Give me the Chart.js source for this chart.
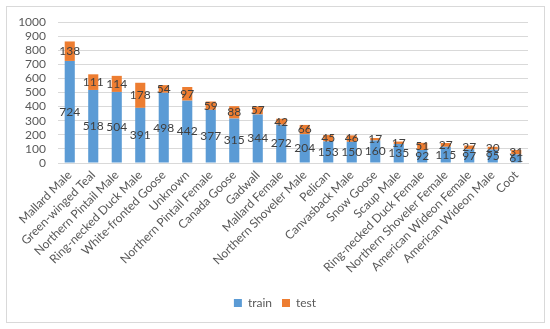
<!DOCTYPE html>
<html><head><meta charset="utf-8">
<script src="https://cdn.jsdelivr.net/npm/chart.js@4"></script>
<style>
html,body{margin:0;padding:0;background:#fff;}
#frame{position:absolute;left:6px;top:6px;width:537px;height:315px;border:1px solid #d9d9d9;box-sizing:content-box;}
#wrap{position:absolute;left:0;top:0;width:550px;height:329px;}
</style></head><body>
<div id="frame"></div>
<div id="wrap"><canvas id="c" width="550" height="329"></canvas></div>
<script>
const categories = ["Mallard Male","Green-winged Teal","Northern Pintail Male","Ring-necked Duck Male","White-fronted Goose","Unknown","Northern Pintail Female","Canada Goose","Gadwall","Mallard Female","Northern Shoveler Male","Pelican","Canvasback Male","Snow Goose","Scaup Male","Ring-necked Duck Female","Northern Shoveler Female","American Wideon Female","American Wideon Male","Coot"];
const train = [724,518,504,391,498,442,377,315,344,272,204,153,150,160,135,92,115,97,95,61];
const test = [138,111,114,178,54,97,59,88,57,42,66,45,46,17,17,51,27,27,20,31];
const seriesNames = ["train","test"];
const yMin = 0, yMax = 1000, yStep = 100;

const FONT = 'Lato';
const labelPlugin = {
  id: 'barLabels',
  afterDatasetsDraw(chart) {
    const ctx = chart.ctx;
    ctx.save();
    ctx.font = '12px ' + FONT;
    ctx.fillStyle = '#404040';
    ctx.textAlign = 'center';
    ctx.textBaseline = 'middle';
    chart.data.datasets.forEach((ds, i) => {
      const meta = chart.getDatasetMeta(i);
      meta.data.forEach((bar, j) => {
        const p = bar.getProps(['x', 'y', 'base'], true);
        ctx.fillText(String(ds.data[j]), p.x, (p.y + p.base) / 2);
      });
    });
    ctx.restore();
  }
};

const PLOT_BOTTOM = 163;
const PAD_BOTTOM = 10;

new Chart(document.getElementById('c'), {
  type: 'bar',
  data: {
    labels: categories,
    datasets: [
      { label: seriesNames[0], data: train, backgroundColor: '#5B9BD5', barPercentage: 0.43, categoryPercentage: 1 },
      { label: seriesNames[1], data: test, backgroundColor: '#ED7D31', barPercentage: 0.43, categoryPercentage: 1 }
    ]
  },
  options: {
    responsive: false,
    animation: false,
    devicePixelRatio: 1,
    layout: { padding: { top: 22, left: 0, right: 0, bottom: PAD_BOTTOM } },
    plugins: {
      legend: {
        position: 'bottom',
        labels: { boxWidth: 8, boxHeight: 8, padding: 10, color: '#595959', font: { family: FONT, size: 12 } }
      },
      tooltip: { enabled: false }
    },
    scales: {
      x: {
        stacked: true,
        grid: { display: false, drawTicks: false },
        border: { display: true, color: '#d9d9d9' },
        ticks: { autoSkip: false, minRotation: 45, maxRotation: 45, padding: 5, color: '#595959', font: { family: FONT, size: 12 } },
        afterFit(scale) {
          const lh = scale.chart.legend ? scale.chart.legend.height : 32;
          scale.height = 329 - PLOT_BOTTOM - PAD_BOTTOM - lh;
        }
      },
      y: {
        stacked: true,
        min: yMin, max: yMax,
        grid: { color: '#d9d9d9', drawTicks: false },
        border: { display: false },
        ticks: { stepSize: yStep, autoSkip: false, padding: 12, color: '#595959', font: { family: FONT, size: 12 }, callback: v => String(v) },
        afterFit(scale) { scale.width = 58; }
      },
      yRight: {
        position: 'right',
        min: yMin, max: yMax,
        grid: { display: false, drawTicks: false },
        border: { display: false },
        ticks: { display: false },
        afterFit(scale) { scale.width = 22; }
      }
    }
  },
  plugins: [labelPlugin]
});
</script>
</body></html>
